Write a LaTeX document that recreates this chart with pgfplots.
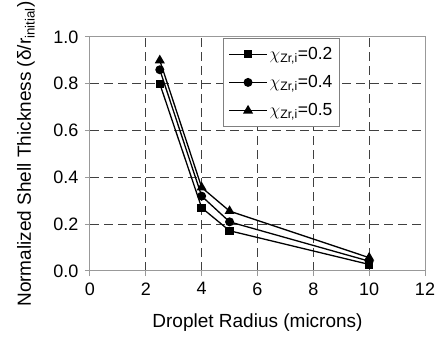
\documentclass[border=0pt]{standalone}
\usepackage{amsmath}
\usepackage{pgfplots}
\pgfplotsset{compat=1.18}
\usepackage{fontspec}
\setmainfont{Liberation Sans}
\begin{document}
\begin{tikzpicture}
\begin{axis}[
  scale only axis,
  width=335pt, height=234pt,
  xmin=0, xmax=12, ymin=0, ymax=1.0,
  xtick={0,2,...,12}, ytick={0,0.2,0.4,0.6,0.8,1.0},
  yticklabel style={xshift=-3pt, /pgf/number format/.cd,fixed,fixed zerofill,precision=1},
  xticklabel style={yshift=-3pt},
  /pgf/number format/assume math mode=true,
  tick label style={font=\fontsize{18}{20}\selectfont},
  label style={font=\fontsize{19}{22}\selectfont},
  xlabel={Droplet Radius (microns)},
  ylabel={Normalized Shell Thickness (δ/r$_{\text{initial}}$)},
  xlabel style={at={(axis description cs:0.5,-0.222)}, anchor=center},
  ylabel style={at={(axis description cs:-0.191,0.5)}, anchor=center},
  grid=major,
  major grid style={black!75, dash pattern=on 9pt off 5pt, line width=1pt},
  axis line style={black!40, line width=1pt},
  tick style={black!40, line width=1pt},
  tick align=outside, major tick length=5pt,
  xtick pos=left, ytick pos=left,
  legend style={at={(0.397,0.996)}, anchor=north west, draw=black!50, line width=0.8pt,
    font=\fontsize{17.5}{20}\selectfont, row sep=10.5pt, inner xsep=5pt, inner ysep=7pt},
  legend cell align=left,
  legend image code/.code={\draw[mark repeat=2, mark phase=2] plot coordinates {(0pt,0pt) (19pt,0pt) (38pt,0pt)};},
  every axis plot/.append style={black, line width=1.3pt, mark options={solid, fill=black}},
]
\addplot[mark=square*, mark size=3.6pt] coordinates {(2.5,0.80) (4,0.27) (5,0.172) (10,0.028)};
\addplot[mark=*, mark size=3.8pt] coordinates {(2.5,0.86) (4,0.32) (5,0.21) (10,0.042)};
\addplot[mark=triangle*, mark size=4.5pt] coordinates {(2.5,0.90) (4,0.357) (5,0.256) (10,0.057)};
\legend{$\chi_{\text{Zr,i}}$=0.2, $\chi_{\text{Zr,i}}$=0.4, $\chi_{\text{Zr,i}}$=0.5}
\end{axis}
\pgfresetboundingbox
\path ([xshift=-90pt,yshift=-68pt]current axis.south west) rectangle ([xshift=13pt,yshift=37pt]current axis.north east);
\end{tikzpicture}
\end{document}
